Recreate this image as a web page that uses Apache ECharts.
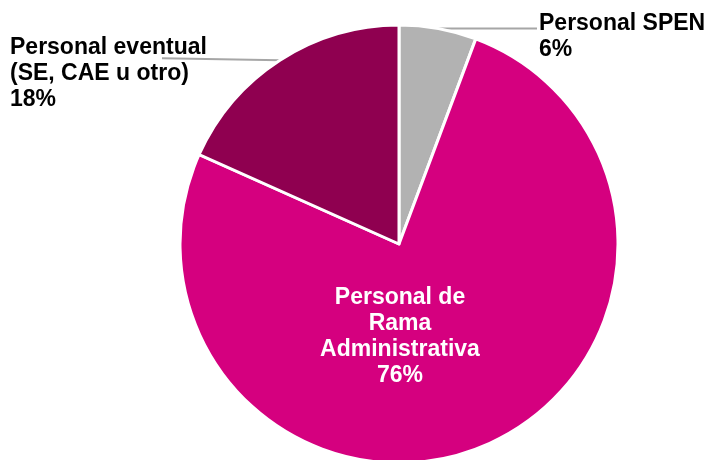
<!DOCTYPE html>
<html>
<head>
<meta charset="utf-8">
<script src="https://cdn.jsdelivr.net/npm/echarts@6/dist/echarts.min.js"></script>
<style>html,body{margin:0;padding:0;background:#fff;}#c{width:710px;height:460px;}</style>
</head>
<body>
<div id="c"></div>
<script>
var categories = ['Personal SPEN', 'Personal de\nRama\nAdministrativa', 'Personal eventual\n(SE, CAE u otro)'];
var values = [5.7, 76.0, 18.3];
var colors = ['#B2B2B2', '#D5007F', '#8F0050'];

var chart = echarts.init(document.getElementById('c'), null, {renderer: 'canvas'});
var font = "'Liberation Sans', Arial, sans-serif";
var labelPos = [
  {x: 539, y: 37, align: 'left', lineEnd: 537},
  {x: 400, y: 337, align: 'center'},
  {x: 10, y: 74, align: 'left', lineEnd: 162}
];
chart.setOption({
  animation: false,
  series: [{
    type: 'pie',
    center: [399, 244],
    radius: 219,
    startAngle: 90,
    clockwise: true,
    percentPrecision: 0,
    itemStyle: {borderColor: '#fff', borderWidth: 3},
    label: {
      show: true,
      position: 'outside',
      formatter: '{b}\n{d}%',
      fontFamily: font,
      fontWeight: 'bold',
      fontSize: 23,
      lineHeight: 26,
      color: '#000'
    },
    labelLine: {show: true, length: 10, length2: 10, lineStyle: {color: '#A6A6A6', width: 2}},
    labelLayout: function (p) {
      var lp = labelPos[p.dataIndex];
      var r = {x: lp.x, y: lp.y, align: lp.align, verticalAlign: 'middle'};
      if (lp.lineEnd !== undefined && p.labelLinePoints) {
        var s = p.labelLinePoints[0];
        var ey = p.dataIndex === 0 ? s[1] : s[1] - 2;
        r.labelLinePoints = [[s[0], s[1]], [lp.lineEnd, ey], [lp.lineEnd, ey]];
      }
      return r;
    },
    data: categories.map(function (c, i) {
      var d = {name: c, value: values[i], itemStyle: {color: colors[i]}};
      if (i === 1) {
        d.label = {position: 'inside', color: '#fff', align: 'center'};
        d.labelLine = {show: false};
      }
      return d;
    })
  }]
});
</script>
</body>
</html>
